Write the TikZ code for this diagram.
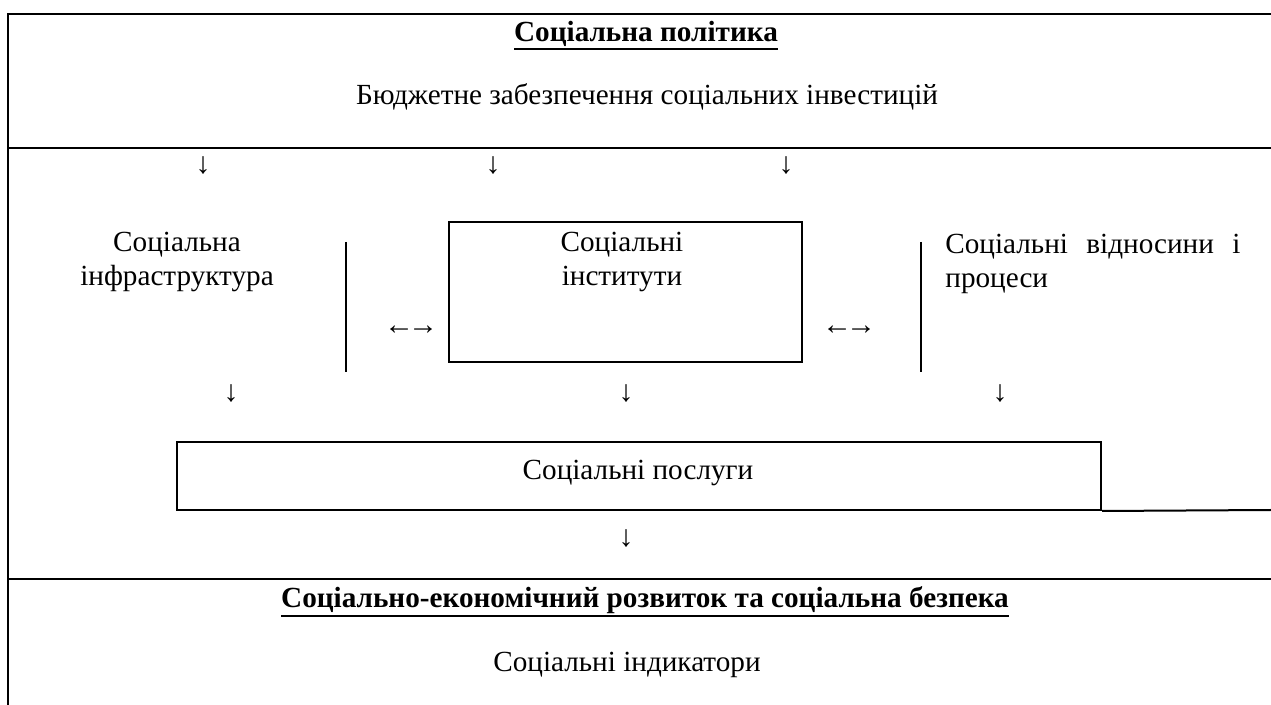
\documentclass[tikz,border=0pt]{standalone}
\usepackage{fontspec}
\setmainfont{Liberation Serif}
\usetikzlibrary{fit}
\newcommand\thickul[1]{\vtop{\hbox{#1}\kern0.6pt\hrule height 1pt}}
\begin{document}
\begin{tikzpicture}[x=0.5pt,y=-0.5pt,
  txt/.style={font=\fontsize{14.6}{17}\selectfont, inner sep=0pt},
  frame/.style={line width=1pt},
  glyph/.style={font=\fontsize{15}{17}\selectfont, inner sep=0pt}]
\useasboundingbox (0,0) rectangle (1271,705);
% frame lines
\coordinate (tl) at (8,14);
\coordinate (tr) at (1271,14);
\coordinate (ml) at (8,148);
\coordinate (mr) at (1271,148);
\coordinate (bl) at (8,579);
\coordinate (br) at (1271,579);
\coordinate (bot) at (8,705);
\draw[frame] (tr) -- (tl) -- (bot);
\draw[frame] (ml) -- (mr);
\draw[frame] (bl) -- (br);
% top section
\node[txt, anchor=base] (pol) at (646,42) {\thickul{\bfseries Соціальна політика}};
\node[txt, anchor=base] (budg) at (647,105) {Бюджетне забезпечення соціальних інвестицій};
% arrows row 1
\node[glyph] (a1) at (203,166) {↓};
\node[glyph] (a2) at (493,166) {↓};
\node[glyph] (a3) at (786,166) {↓};
% middle
\node[txt, align=center] (infra) at (177,262) {Соціальна\\інфраструктура};
\coordinate (i1) at (449,222);
\coordinate (i2) at (802,362);
\node[frame, draw, fit=(i1)(i2), inner sep=0pt] (instbox) {};
\node[txt, align=center] (inst) at (622,262) {Соціальні\\інститути};
\node[txt, anchor=north west, align=left] (rel) at (945,234) {\hbox to 147.5pt{Соціальні\hfill відносини\hfill і}\\процеси};
\coordinate (v1a) at (346,242);
\coordinate (v1b) at (346,372);
\coordinate (v2a) at (921,242);
\coordinate (v2b) at (921,372);
\draw[frame] (v1a) -- (v1b);
\draw[frame] (v2a) -- (v2b);
\node[glyph] (lr1) at (411,330) {←\kern-3pt→};
\node[glyph] (lr2) at (849,330) {←\kern-3pt→};
% arrows row 2
\node[glyph] (b1) at (231,394) {↓};
\node[glyph] (b2) at (626,394) {↓};
\node[glyph] (b3) at (1000,394) {↓};
% services
\coordinate (s1) at (177,442);
\coordinate (s2) at (1101,510);
\node[frame, draw, fit=(s1)(s2), inner sep=0pt] (servbox) {};
\node[txt] (serv) at (638,473) {Соціальні послуги};
\coordinate (sr) at (1271,510);
\draw[frame] (servbox.south east) -- (sr);
\node[glyph] (c1) at (626,539) {↓};
% bottom
\node[txt, anchor=base] (dev) at (645,608) {\thickul{\bfseries Соціально-економічний розвиток та соціальна безпека}};
\node[txt] (ind) at (627,665) {Соціальні індикатори};
\end{tikzpicture}
\end{document}
